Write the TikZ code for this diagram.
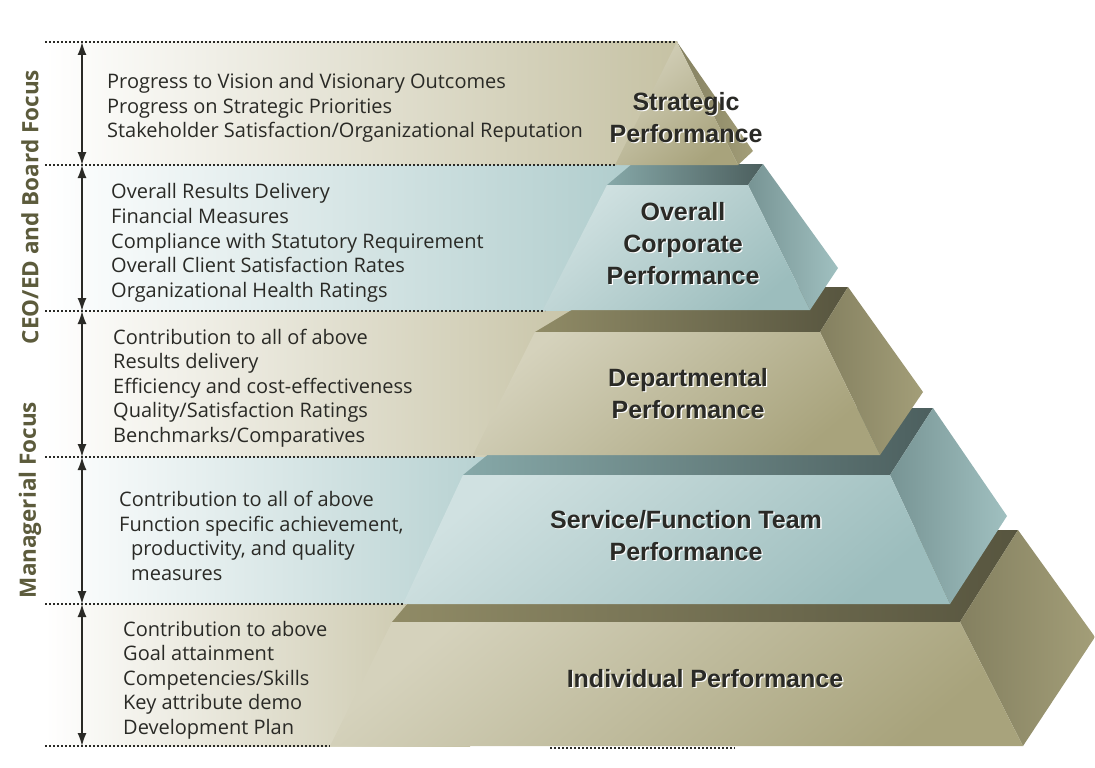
\documentclass[tikz,border=0pt]{standalone}
\usepackage{fontspec}
\setmainfont{Open Sans}
\newfontfamily\ttlfont{Liberation Sans}
\usetikzlibrary{arrows.meta}

\definecolor{ink}{HTML}{2A2A26}
\definecolor{focusclr}{HTML}{5C5B3C}
\definecolor{bandtan}{HTML}{C6C2A4}
\definecolor{bandteal}{HTML}{B0CDCD}
\definecolor{tanlt}{HTML}{D5D2BC}
\definecolor{tandk}{HTML}{A8A37C}
\definecolor{tantoplt}{HTML}{908B66}
\definecolor{tantopdk}{HTML}{57553F}
\definecolor{tansidedk}{HTML}{848060}
\definecolor{tansidelt}{HTML}{A39E78}
\definecolor{teallt}{HTML}{D0E1E1}
\definecolor{tealdk}{HTML}{9CBDBD}
\definecolor{tealtoplt}{HTML}{86A8A8}
\definecolor{tealtopdk}{HTML}{4C5F5E}
\definecolor{tealsidedk}{HTML}{779494}
\definecolor{tealsidelt}{HTML}{A0C0C0}

\newcommand\glowline[1]{\leavevmode\rlap{\kern1.3pt\raisebox{-1.3pt}{\color{white}#1}}#1}

\begin{document}
\begin{tikzpicture}[x=1pt,y=-1pt]
\tikzset{ >={Latex[length=13pt,width=9pt]},
  dots/.style={ink, line width=1.6pt, dash pattern=on 1.6pt off 2.4pt},
  span/.style={<->, ink, line width=1.6pt},
  tanband/.style={left color=white, right color=bandtan},
  tealband/.style={left color=white, right color=bandteal},
  tanfront/.style={top color=tanlt, bottom color=tandk, shading angle=40},
  tantop/.style={left color=tantoplt, right color=tantopdk},
  tanside/.style={left color=tansidedk, right color=tansidelt},
  tealfront/.style={top color=teallt, bottom color=tealdk, shading angle=40},
  tealtop/.style={left color=tealtoplt, right color=tealtopdk},
  tealside/.style={left color=tealsidedk, right color=tealsidelt},
  items/.style={anchor=west, align=left, inner sep=0pt, text=ink,
    font=\fontsize{20}{24.6}\selectfont},
  tiername/.style={align=center, inner sep=0pt, text=ink,
    font=\ttlfont\bfseries\fontsize{25}{32}\selectfont},
  focus/.style={rotate=90, inner sep=0pt, text=focusclr,
    font=\bfseries\fontsize{22.5}{24}\selectfont},
}
\useasboundingbox (0,0) rectangle (1095,768);

% bands behind the lists
\shade [tanband]  (45,42)  rectangle (677,165);
\shade [tealband] (45,165) rectangle (632,311);
\shade [tanband]  (45,311) rectangle (600,457);
\shade [tealband] (45,457) rectangle (530,604);
\shade [tanband]  (45,604) rectangle (470,746);

% level marks
\coordinate (d0) at (45,42);   \coordinate (e0) at (677,42);
\coordinate (d1) at (45,165);  \coordinate (e1) at (615,165);
\coordinate (d2) at (45,311);  \coordinate (e2) at (545,311);
\coordinate (d3) at (45,457);  \coordinate (e3) at (475,457);
\coordinate (d4) at (45,604);  \coordinate (e4) at (405,604);
\coordinate (d5) at (45,746);  \coordinate (e5) at (330,746);
\coordinate (f5) at (550,748); \coordinate (g5) at (735,748);

\draw [dots] (d0) -- (e0);
\draw [dots] (d1) -- (e1);
\draw [dots] (d2) -- (e2);
\draw [dots] (d3) -- (e3);
\draw [dots] (d4) -- (e4);
\draw [dots] (d5) -- (e5);
\draw [dots] (f5) -- (g5);

\coordinate (a0) at (82,42);
\coordinate (a1) at (82,165);
\coordinate (a2) at (82,311);
\coordinate (a3) at (82,457);
\coordinate (a4) at (82,604);
\coordinate (a5) at (82,746);

\draw [span] (a0) -- (a1);
\draw [span] (a1) -- (a2);
\draw [span] (a2) -- (a3);
\draw [span] (a3) -- (a4);
\draw [span] (a4) -- (a5);

\node [focus] (board) at (30,207) {CEO/ED and Board Focus};
\node [focus] (mgr)   at (30,500) {Managerial Focus};

% pyramid, bottom tier first
\shade [tantop]   (470,530) -- (1018,530) -- (960,622) -- (392,622) -- cycle;
\shade [tanside]  (960,622) -- (1018,530) -- (1095,637) -- (1023,746) -- cycle;
\shade [tanfront] (392,622) -- (960,622) -- (1023,746) -- (330,746) -- cycle;

\shade [tealtop]   (545,408) -- (933,408) -- (890,475) -- (463,475) -- cycle;
\shade [tealside]  (890,475) -- (933,408) -- (1007,516) -- (950,604) -- cycle;
\shade [tealfront] (463,475) -- (890,475) -- (950,604) -- (403,604) -- cycle;

\shade [tantop]   (610,287) -- (848,287) -- (820,332) -- (535,332) -- cycle;
\shade [tanside]  (820,332) -- (848,287) -- (923,392) -- (880,455) -- cycle;
\shade [tanfront] (535,332) -- (820,332) -- (880,455) -- (473,455) -- cycle;

\shade [tealtop]   (632,164) -- (763,164) -- (748,185) -- (607,185) -- cycle;
\shade [tealside]  (748,185) -- (763,164) -- (838,268) -- (810,310) -- cycle;
\shade [tealfront] (607,185) -- (748,185) -- (810,310) -- (543,310) -- cycle;

\shade [tanside]  (677,42) -- (753,151) -- (738,165) -- cycle;
\shade [tanfront] (677,42) -- (738,165) -- (615,165) -- cycle;

% tier names
\node [tiername] (strat) at (686,118) {\glowline{Strategic}\\\glowline{Performance}};
\node [tiername] (corp)  at (683,244) {\glowline{Overall}\\\glowline{Corporate}\\\glowline{Performance}};
\node [tiername] (dept)  at (688,394) {\glowline{Departmental}\\\glowline{Performance}};
\node [tiername] (team)  at (686,536) {\glowline{Service/Function Team}\\\glowline{Performance}};
\node [tiername] (indiv) at (705,679) {\glowline{Individual Performance}};

% lists
\node [items] (stratlist) at (107,108) {Progress to Vision and Visionary Outcomes\\
  Progress on Strategic Priorities\\
  Stakeholder Satisfaction/Organizational Reputation};
\node [items] (corplist) at (111,243) {Overall Results Delivery\\
  Financial Measures\\
  Compliance with Statutory Requirement\\
  Overall Client Satisfaction Rates\\
  Organizational Health Ratings};
\node [items] (deptlist) at (113,388) {Contribution to all of above\\
  Results delivery\\
  Efficiency and cost-effectiveness\\
  Quality/Satisfaction Ratings\\
  Benchmarks/Comparatives};
\node [items] (teamlist) at (119,536) {Contribution to all of above\\
  Function specific achievement,\\
  \hspace*{12pt}productivity, and quality\\
  \hspace*{12pt}measures};
\node [items] (indivlist) at (123,680) {Contribution to above\\
  Goal attainment\\
  Competencies/Skills\\
  Key attribute demo\\
  Development Plan};
\end{tikzpicture}
\end{document}
